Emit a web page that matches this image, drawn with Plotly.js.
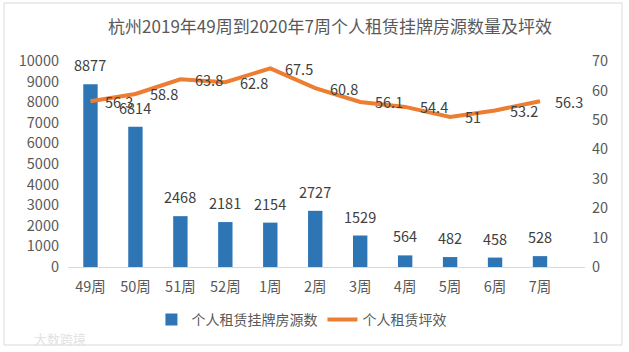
<!DOCTYPE html>
<html>
<head>
<meta charset="utf-8">
<script src="https://cdn.plot.ly/plotly-3.0.1.min.js"></script>
<style>
html,body{margin:0;padding:0;background:#fff;}
#chart{width:629px;height:352px;}
</style>
</head>
<body>
<div id="chart"></div>
<script>
const categories = ["49周","50周","51周","52周","1周","2周","3周","4周","5周","6周","7周"];
const listings = [8877, 6814, 2468, 2181, 2154, 2727, 1529, 564, 482, 458, 528];
const efficiency = [56.3, 58.8, 63.8, 62.8, 67.5, 60.8, 56.1, 54.4, 51, 53.2, 56.3];
const barName = "个人租赁挂牌房源数";
const lineName = "个人租赁坪效";
const titleText = "杭州2019年49周到2020年7周个人租赁挂牌房源数量及坪效";

const FONT = 'Noto Sans CJK SC, sans-serif';

const traces = [
  {
    type: 'bar', name: barName, x: categories, y: listings,
    marker: {color: '#2E75B6'}, yaxis: 'y', hoverinfo: 'none'
  },
  {
    type: 'scatter', mode: 'lines', name: lineName, x: categories, y: efficiency,
    line: {color: '#ED7D31', width: 4}, yaxis: 'y2', hoverinfo: 'none'
  }
];

const annotations = [];
categories.forEach((c, i) => {
  annotations.push({
    x: c, y: listings[i], xref: 'x', yref: 'y', text: String(listings[i]),
    showarrow: false, yanchor: 'bottom', xanchor: 'center', yshift: 7,
    font: {family: FONT, size: 14.5, color: '#404040'}
  });
  annotations.push({
    x: c, y: efficiency[i], xref: 'x', yref: 'y2', text: String(efficiency[i]),
    showarrow: false, yanchor: 'middle', xanchor: 'left', xshift: 13,
    font: {family: FONT, size: 14.5, color: '#404040'}
  });
});
annotations.push({
  x: (32-68)/517, y: -(338-267)/206, xref: 'paper', yref: 'paper', text: '大数跨境',
  showarrow: false, xanchor: 'left', yanchor: 'middle',
  font: {family: FONT, size: 13, color: '#e2e2e2'}
});

const layout = {
  width: 629, height: 352,
  margin: {l: 68, r: 44, t: 61, b: 85},
  paper_bgcolor: '#ffffff', plot_bgcolor: '#ffffff',
  font: {family: FONT, color: '#595959'},
  title: {
    text: titleText, xref: 'container', yref: 'container',
    x: 330/629, xanchor: 'center', y: 1 - 27/352, yanchor: 'middle',
    font: {family: FONT, size: 17, color: '#595959'}
  },
  bargap: 0.68,
  xaxis: {
    type: 'category', showgrid: false, zeroline: false,
    showline: true, linecolor: '#d9d9d9', linewidth: 1,
    ticks: '', ticklabelstandoff: 7,
    tickfont: {family: FONT, size: 14.5, color: '#595959'}
  },
  yaxis: {
    range: [0, 10000], dtick: 1000, tickformat: 'd', showgrid: false, zeroline: false,
    showline: false, ticks: '', ticklabelstandoff: 8,
    tickfont: {family: FONT, size: 14.5, color: '#595959'}
  },
  yaxis2: {
    range: [0, 70], dtick: 10, tickformat: 'd', overlaying: 'y', side: 'right',
    showgrid: false, zeroline: false, showline: false, ticks: '', ticklabelstandoff: 6,
    tickfont: {family: FONT, size: 14.5, color: '#595959'}
  },
  showlegend: true,
  legend: {
    orientation: 'h', x: 284/629, xanchor: 'center', y: 1 - 320/352, yref: 'container', yanchor: 'middle',
    font: {family: FONT, size: 14, color: '#595959'}, itemwidth: 30, traceorder: 'normal'
  },
  shapes: [{
    type: 'rect', xref: 'paper', yref: 'paper',
    x0: (4-68)/517, x1: (622-68)/517, y0: -(345-267)/206, y1: 1 + (61-3)/206,
    line: {color: '#d9d9d9', width: 1}, fillcolor: 'rgba(0,0,0,0)', layer: 'below'
  }],
  annotations: annotations
};

Plotly.newPlot('chart', traces, layout, {staticPlot: true, displayModeBar: false});
</script>
</body>
</html>
